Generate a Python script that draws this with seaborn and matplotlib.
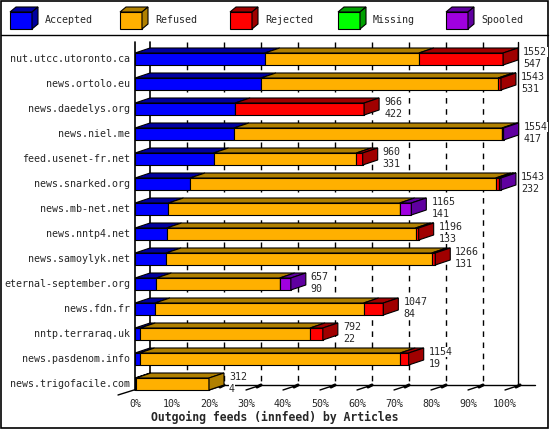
import matplotlib
matplotlib.use("Agg")
import matplotlib.pyplot as plt
import seaborn as sns
import pandas as pd
from matplotlib.patches import Polygon, Rectangle

# Podaci (broj artikala po feedu)
hosts = ['nut.utcc.utoronto.ca', 'news.ortolo.eu', 'news.daedelys.org', 'news.niel.me',
         'feed.usenet-fr.net', 'news.snarked.org', 'news.mb-net.net', 'news.nntp4.net',
         'news.samoylyk.net', 'eternal-september.org', 'news.fdn.fr', 'nntp.terraraq.uk',
         'news.pasdenom.info', 'news.trigofacile.com']
offered = [1552, 1543, 966, 1554, 960, 1543, 1165, 1196, 1266, 657, 1047, 792, 1154, 312]
accepted = [547, 531, 422, 417, 331, 232, 141, 133, 131, 90, 84, 22, 19, 4]
refused = [650, 1000, 0, 1130, 602, 1289, 975, 1050, 1120, 520, 880, 716, 1099, 308]
rejected = [355, 12, 544, 0, 27, 12, 0, 13, 15, 0, 83, 54, 36, 0]
missing = [0] * 14
spooled = [0, 0, 0, 7, 0, 10, 49, 0, 0, 47, 0, 0, 0, 0]
pct_ticks = [0, 10, 20, 30, 40, 50, 60, 70, 80, 90, 100]

series = ['Accepted', 'Refused', 'Rejected', 'Missing', 'Spooled']
front = ['#0000ff', '#ffb000', '#ff0000', '#00ff00', '#a000e0']
dark = ['#0000a0', '#b08000', '#a00000', '#00a000', '#6000a0']

df = pd.DataFrame({'host': hosts, 'Accepted': accepted, 'Refused': refused,
                   'Rejected': rejected, 'Missing': missing, 'Spooled': spooled})

sns.set_style("white")
plt.rcParams['font.family'] = ['DejaVu Sans Mono']
W, H = 550, 430
fig = plt.figure(figsize=(5.5, 4.3), dpi=100)

# overlay: okvir, legenda, osa, mreza (crta se prvi, iza barova)
ov = fig.add_axes([0, 0, 1, 1])
ov.set_xlim(0, W)
ov.set_ylim(H, 0)
ov.axis('off')

# geometrija u pikselima
x0, xr, ytop, ybot = 135, 530, 42, 395
pxc = 370 / 1560.0          # pikseli po artiklu (100% = 1560)
cy0, rowh = 59, 25
dxp, dyp = 15, 5
ax = fig.add_axes([x0 / W, 1 - ybot / H, (xr - x0) / W, (ybot - ytop) / H])
ax.patch.set_visible(False)
dx = dxp / pxc
dy = dyp / rowh
bh = 12 / rowh

ov.add_patch(Rectangle((1, 1), W - 3, H - 3, fill=False, ec='black', lw=1.2))
ov.plot([1, W - 2], [35, 35], color='black', lw=1)
for k, (s, lx) in enumerate(zip(series, [10, 120, 230, 338, 446])):
    ov.add_patch(Rectangle((lx, 12), 22, 17, fc=front[k], ec='black', lw=0.8))
    ov.add_patch(Polygon([(lx, 12), (lx + 6, 7), (lx + 28, 7), (lx + 22, 12)], fc=dark[k], ec='black', lw=0.8))
    ov.add_patch(Polygon([(lx + 22, 12), (lx + 28, 7), (lx + 28, 24), (lx + 22, 29)], fc=dark[k], ec='black', lw=0.8))
    ov.text(lx + 35, 20, s, fontsize=7.2, va='center')
for p in pct_ticks[1:-1]:
    gx = x0 + p * 3.7 + dxp
    ov.plot([gx, gx], [ytop, 385], ls='--', dashes=(4, 4), color='black', lw=1.0)
ov.plot([x0, x0], [ytop, 390], color='black', lw=1.2)
ov.plot([x0 + dxp, x0 + dxp], [ytop, 385], color='black', lw=1.2)
ov.plot([518, 518], [ytop, 385], color='black', lw=1)
ov.plot([x0 + dxp, 535], [385, 385], color='black', lw=1)
ov.plot([118, x0 + dxp], [395, 385], color='black', lw=1)
for p in pct_ticks:
    tx = x0 + p * 3.7
    ov.plot([tx, tx + dxp], [390, 385], color='black', lw=1)
    ov.plot([tx + dxp - 4, tx + dxp], [387, 385], color='black', lw=2.2)
    ov.text(tx, 404, f'{p}%', fontsize=7.2, ha='center', va='center')
ov.text(275, 417, 'Outgoing feeds (innfeed) by Articles', fontsize=8.3, fontweight='bold',
        ha='center', va='center')

# prednje strane barova
sns.barplot(data=df, x='Accepted', y='host', orient='h', color=front[0], width=bh,
            edgecolor='black', linewidth=0.8, saturation=1, ax=ax, zorder=3)
YLIM = ((ybot - cy0) / rowh, (ytop - cy0) / rowh)
ax.set_xlim(0, (xr - x0) / pxc)
ax.set_ylim(*YLIM)
ax.axis('off')
left = df['Accepted'].astype(float).values.copy()
for s, c in zip(series[1:], front[1:]):
    ax.barh(range(len(hosts)), df[s], left=left, height=bh, color=c,
            edgecolor='black', linewidth=0.8, zorder=3)
    left += df[s].values

# gornje i bocne strane
box = dict(fc='white', ec='none', pad=0.3)
for i in range(len(hosts)):
    yt = i - bh / 2
    l = 0.0
    last = 0
    for k, s in enumerate(series):
        v = df[s][i]
        if v <= 0:
            continue
        r = l + v
        ax.add_patch(Polygon([(l, yt), (r, yt), (r + dx, yt - dy), (l + dx, yt - dy)],
                             closed=True, fc=dark[k], ec='black', lw=0.8, zorder=3))
        l = r
        last = k
    ax.add_patch(Polygon([(l, yt), (l + dx, yt - dy), (l + dx, yt + bh - dy), (l, yt + bh)],
                         closed=True, fc=dark[last], ec='black', lw=0.8, zorder=3))
    ax.text(l + dx + 5 / pxc, i - 0.28, str(offered[i]), fontsize=7.2, va='center', zorder=4, bbox=box)
    ax.text(l + dx + 5 / pxc, i + 0.2, str(accepted[i]), fontsize=7.2, va='center', zorder=4, bbox=box)
    ax.text(-5 / pxc, i, hosts[i], fontsize=7.2, ha='right', va='center', clip_on=False)
ax.set_ylim(*YLIM)

fig.savefig('out.png', dpi=100, facecolor='white')
